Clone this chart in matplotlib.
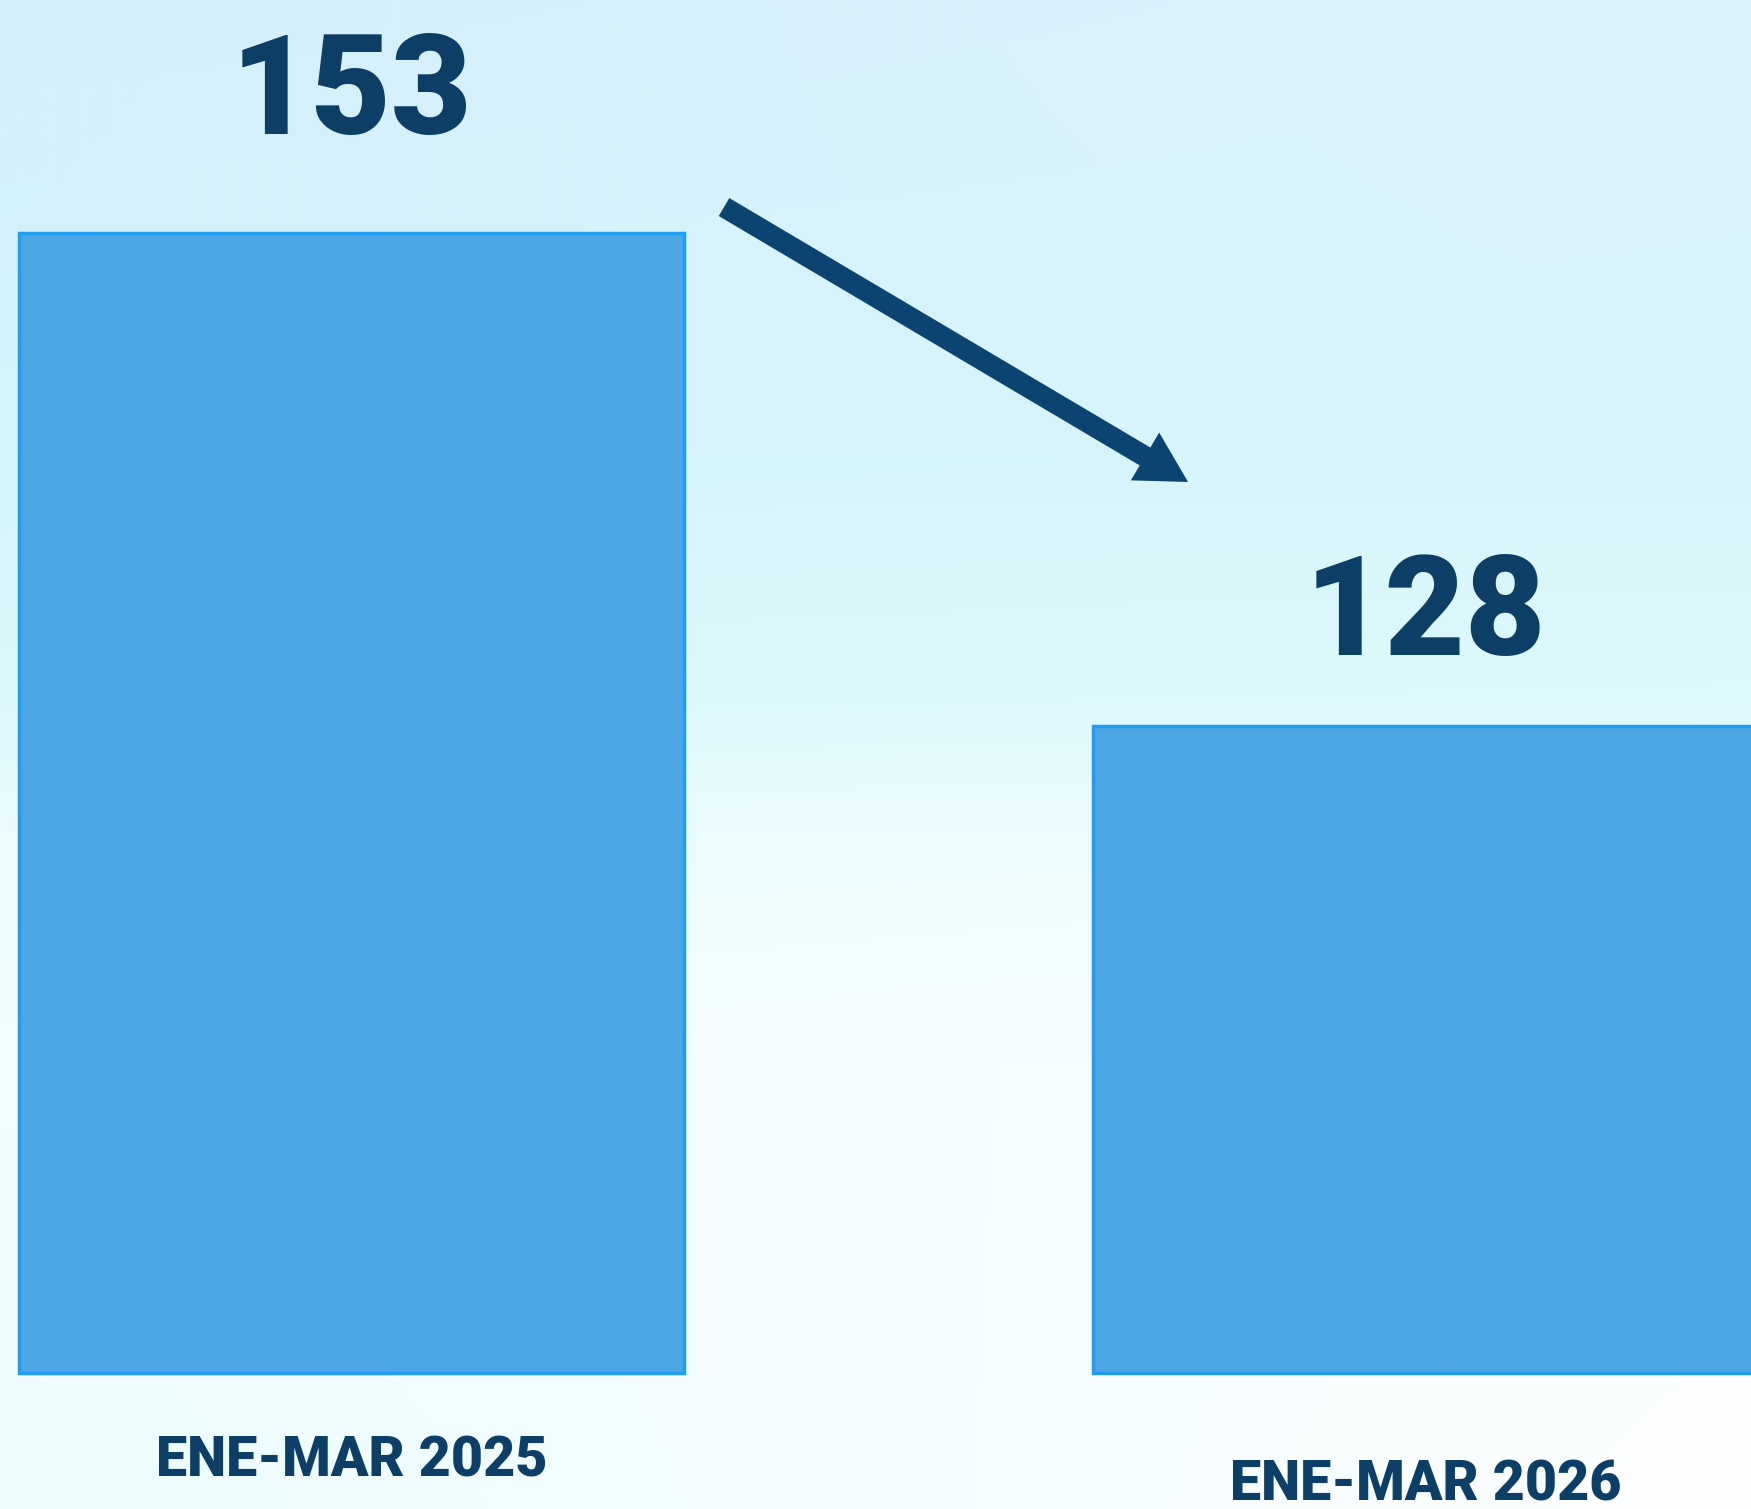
import numpy as np
import matplotlib
matplotlib.use("Agg")
import matplotlib.pyplot as plt
from matplotlib.colors import to_rgb
from matplotlib.patches import FancyArrowPatch

# ---- data ----
categories = ["ENE-MAR 2025", "ENE-MAR 2026"]
values = [153, 128]

# ---- style ----
bar_color = "#4da7e4"
edge_color = "#1e9df2"
text_color = "#0d3f66"
arrow_color = "#0b4470"
baseline = 95.2  # visual floor of the bars (axis does not start at zero)

W, H, DPI = 1751, 1509, 100
fig = plt.figure(figsize=(W / DPI, H / DPI), dpi=DPI)
ax = fig.add_axes([0, 0, 1, 1])

# background gradient (decorative)
ny, nx = 300, 300
yy = np.linspace(0, 1, ny)[:, None]   # 0 = top
xx = np.linspace(0, 1, nx)[None, :]
stops_y = [0.0, 0.30, 0.45, 0.55, 0.70, 1.0]
left_cols = [to_rgb(c) for c in ["#d3effb", "#d5f4fb", "#dbf8fc", "#eafcfe", "#f1fdfe", "#ebfcfd"]]
right_cols = [to_rgb(c) for c in ["#dcf2fb", "#d8f4fb", "#dcf9fc", "#eefcfe", "#f8fdfe", "#fdfeff"]]
img = np.zeros((ny, nx, 3))
for ch in range(3):
    lc = np.interp(yy[:, 0], stops_y, [c[ch] for c in left_cols])[:, None]
    rc = np.interp(yy[:, 0], stops_y, [c[ch] for c in right_cols])[:, None]
    img[:, :, ch] = lc * (1 - xx) + rc * xx
ax.imshow(img, extent=[0, 1, 0, 1], transform=ax.transAxes, aspect="auto",
          zorder=0, interpolation="bilinear")

x = np.arange(len(values))
vals = np.array(values, dtype=float)
ax.bar(x, vals - baseline, bottom=baseline, width=0.619, color=bar_color,
       edgecolor=edge_color, linewidth=2.5, zorder=2)

ax.set_xlim(-0.327, 1.303)
ax.set_ylim(88.3, 164.8)
ax.axis("off")

font = "Roboto"
value_gaps = [71, 51]  # points above bar top (layout)
for xi, v, g in zip(x, values, value_gaps):
    ax.annotate(str(v), xy=(xi, v), xytext=(0, g), textcoords="offset points",
                ha="center", va="baseline", fontsize=100, fontweight="black",
                family=font, color=text_color, zorder=3)

cat_y = [0.0318, 0.0159]  # axes fraction (layout)
for xi, c, cy in zip(x, categories, cat_y):
    ax.text(xi, cy, c, transform=ax.get_xaxis_transform(), ha="center",
            va="center", fontsize=40, fontweight="black", family=font,
            color=text_color, zorder=3)

arrow = FancyArrowPatch((0.4135, 0.8628), (0.6785, 0.6806),
                        transform=ax.transAxes,
                        arrowstyle="simple,head_length=3.6,head_width=4.0,tail_width=1.5",
                        mutation_scale=10, color=arrow_color, lw=0,
                        shrinkA=0, shrinkB=0, zorder=4)
ax.add_patch(arrow)

fig.savefig("out.png", dpi=DPI)
